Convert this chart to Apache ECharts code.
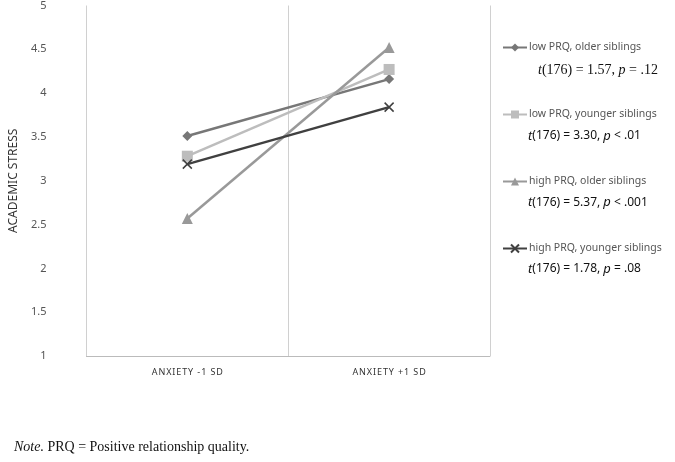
<!DOCTYPE html><html><head><meta charset="utf-8"><script src="https://cdn.jsdelivr.net/npm/echarts@6/dist/echarts.min.js"></script></head><body style="margin:0"><div id="c" style="width:675px;height:462px"></div><script>
const categories=['ANXIETY -1 SD','ANXIETY +1 SD'];
const seriesNames=['low PRQ, older siblings','low PRQ, younger siblings','high PRQ, older siblings','high PRQ, younger siblings'];
const lowOlder=[3.51,4.16];
const lowYounger=[3.28,4.27];
const highOlder=[2.57,4.52];
const highYounger=[3.19,3.84];
const yTicks=['1.0','1.5','2.0','2.5','3.0','3.5','4.0','4.5','5.0'];
const stats=[['1.57','=','.12'],['3.30','<','.01'],['5.37','<','.001'],['1.78','=','.08']];
const colors=['#777777','#bdbdbd','#999999','#404040'];
const symbols=['diamond','rect','triangle','path://M0,0L10,10M10,0L0,10'];
const vals=[lowOlder,lowYounger,highOlder,highYounger];
const chart=echarts.init(document.getElementById('c'));
const statGraphics=stats.map((s,i)=>({type:'text',left:[538,528,528,528][i],top:63+i*66.5,style:{
 text:'{i|t}{n|(176) = '+s[0]+', }{i|p}{n| '+s[1]+' '+s[2]+'}',
 rich:{i:{fontFamily:i==0?'Liberation Serif':'Noto Sans',fontStyle:'italic',fontSize:i==0?14:13,fill:'#111'},n:{fontFamily:i==0?'Liberation Serif':'Noto Sans',fontSize:i==0?14:12,fill:'#111'}}}}));
chart.setOption({
 animation:false,
 grid:{left:73,right:185,top:5,bottom:106},
 legend:{orient:'vertical',left:497,top:37,itemGap:56,itemWidth:24,itemHeight:10,itemGap2:0,data:seriesNames,
  textStyle:{fontFamily:'Noto Sans',fontSize:10.5,color:'#555',padding:[0,0,0,-3]}},
 xAxis:{type:'category',data:categories,axisLine:{lineStyle:{color:'#bbb'}},axisTick:{show:false},
  splitLine:{show:true,lineStyle:{color:'#d0d0d0'}},
  axisLabel:{fontFamily:'Noto Sans',fontSize:9,color:'#333',margin:12,formatter:v=>v.split('').join('\u200a')}},
 yAxis:{type:'value',min:1,max:5,interval:0.5,name:'ACADEMIC STRESS',nameLocation:'middle',nameGap:52,
  nameTextStyle:{fontFamily:'Noto Sans',fontSize:12,color:'#333'},
  axisLine:{show:false},axisTick:{show:false},splitLine:{show:false},
  axisLabel:{fontFamily:'Noto Sans',fontSize:11,color:'#555',margin:40}},
 series:seriesNames.map((n,i)=>({name:n,type:'line',data:vals[i],symbol:symbols[i],symbolSize:i==3?9:(i==0?10:11),
  lineStyle:{color:colors[i],width:2.5},itemStyle:{color:colors[i],borderColor:colors[i],borderWidth:i==3?1.5:0}})),
 graphic:statGraphics.concat([{type:'text',left:14,top:440,style:{text:'{i|Note.}{n| PRQ = Positive relationship quality.}',
  rich:{i:{fontFamily:'Liberation Serif',fontStyle:'italic',fontSize:14,fill:'#111'},n:{fontFamily:'Liberation Serif',fontSize:14,fill:'#111'}}}}])
});
</script></body></html>
